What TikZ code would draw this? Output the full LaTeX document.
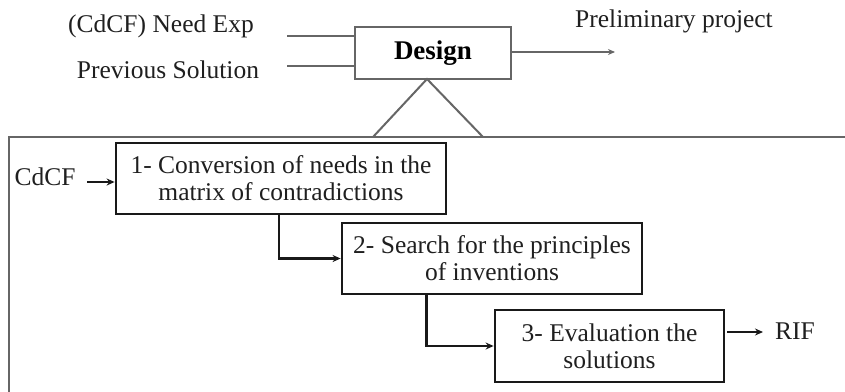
\documentclass[tikz,border=0pt]{standalone}
\usepackage{fontspec}
\setmainfont{Liberation Serif}
\usetikzlibrary{arrows.meta}
\begin{document}
\begin{tikzpicture}[x=1pt,y=-1pt,
  txt/.style={inner sep=0pt,font=\fontsize{25.5}{27}\selectfont,text=black!88},
  stepbox/.style={draw=black!90,line width=2.8pt,align=center,inner sep=0pt,
    font=\fontsize{25.5}{27}\selectfont,text=black!88},
  designbox/.style={draw=black!60,line width=2pt,inner sep=0pt,
    font=\fontsize{27}{29}\selectfont\bfseries},
  thin/.style={draw=black!60,line width=2pt},
  link/.style={draw=black!90,line width=2.4pt,-{Stealth[length=8pt,width=7pt]}}]
\useasboundingbox (0,0) rectangle (845,391);

% top level activity
\node[designbox,minimum width=156pt,minimum height=52pt] (design) at (433,53) {Design};
\node[txt] (need) at (161,26) {(CdCF) Need Exp};
\node[txt] (prev) at (168,70) {Previous Solution};
\node[txt] (prelim) at (674,21) {Preliminary project};

\coordinate (in1) at (287,36);
\coordinate (in2) at (287,66);
\coordinate (out) at (615,52);
\draw[thin] (in1) -- (in1 -| design.west);
\draw[thin] (in2) -- (in2 -| design.west);
\draw[thin,-{Stealth[length=7pt,width=6pt]}] (design.east |- out) -- (out);

% decomposition frame
\coordinate (apex) at (427,79);
\coordinate (bl) at (373,137);
\coordinate (br) at (483,137);
\draw[thin] (bl) -- (apex) -- (br);
\draw[thin] (846,137) -- (9,137) -- (9,392);

% sub-activities
\node[stepbox,minimum width=330pt,minimum height=71pt] (box1) at (281,178.5)
  {1- Conversion of needs in the\\matrix of contradictions};
\node[stepbox,minimum width=300pt,minimum height=71pt] (box2) at (492,258.5)
  {2- Search for the principles\\of inventions};
\node[stepbox,minimum width=229pt,minimum height=72pt] (box3) at (609.5,346)
  {3- Evaluation the\\solutions};

\node[txt] (cdcf) at (45,177) {CdCF};
\node[txt] (rif) at (795,331) {RIF};

\coordinate (c0) at (87,182);
\draw[link] (c0) -- (c0 -| box1.west);
\draw[link] ([xshift=-2pt]box1.south) |- (box2.west);
\draw[link] ([xshift=86pt]box2.south west) |- (box3.west);
\coordinate (r0) at (727,332);
\draw[link] (r0) -- (763,332);
\end{tikzpicture}
\end{document}
